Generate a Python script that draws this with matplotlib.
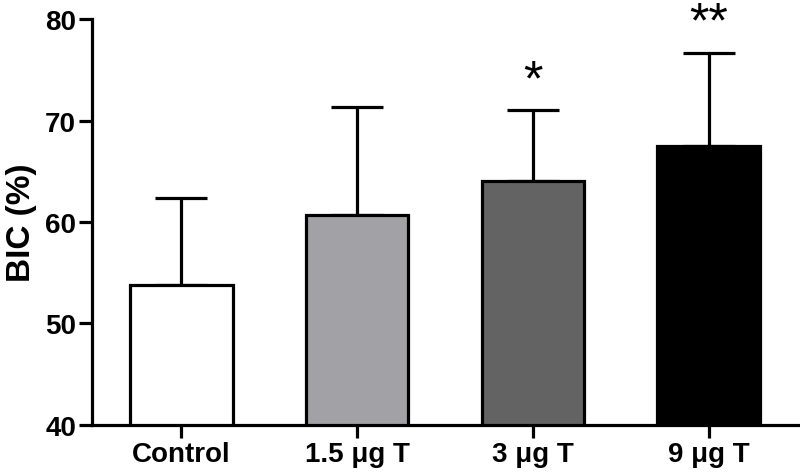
import matplotlib
matplotlib.use("Agg")
from matplotlib import pyplot as plt
import numpy as np

plt.rcParams['font.family'] = ['Liberation Sans', 'DejaVu Sans']

groups = ["Control", "1.5 μg T", "3 μg T", "9 μg T"]
means = [53.8, 60.7, 64.0, 67.5]
err_top = [62.4, 71.3, 71.0, 76.7]
stars = ["", "", "*", "**"]
colors = ["white", "#a2a2a6", "#636363", "black"]

errs = [t - m for t, m in zip(err_top, means)]
x = np.arange(len(groups))

fig = plt.figure(figsize=(8, 4.77), dpi=100)
ax = fig.add_axes([0.115, 0.107, 0.8825, 0.851])

lw = 2.3
ax.bar(x, means, width=0.585, color=colors, edgecolor="black", linewidth=lw, zorder=2)
ax.errorbar(x, means, yerr=[np.zeros(len(x)), errs], fmt="none", ecolor="black",
            elinewidth=lw, capsize=19, capthick=lw, zorder=1)

for xi, t, s in zip(x, err_top, stars):
  if s:
    ax.text(xi, t + 2.9, s, ha="center", va="center", fontsize=36, clip_on=False)

ax.set_xlim(-0.506, 3.506)
ax.set_ylim(40, 80)
ax.set_yticks([40, 50, 60, 70, 80])
ax.set_xticks(x)
ax.set_xticklabels(groups)
ax.set_ylabel("BIC (%)", fontsize=24, fontweight="bold", labelpad=6)

for lab in ax.get_xticklabels() + ax.get_yticklabels():
  lab.set_fontweight("bold")
  lab.set_fontsize(20)

ax.spines["top"].set_visible(False)
ax.spines["right"].set_visible(False)
ax.spines["left"].set_linewidth(lw)
ax.spines["bottom"].set_linewidth(lw)
ax.tick_params(axis="both", direction="out", length=9.5, width=lw, pad=2)

fig.savefig("out.png", dpi=100)
